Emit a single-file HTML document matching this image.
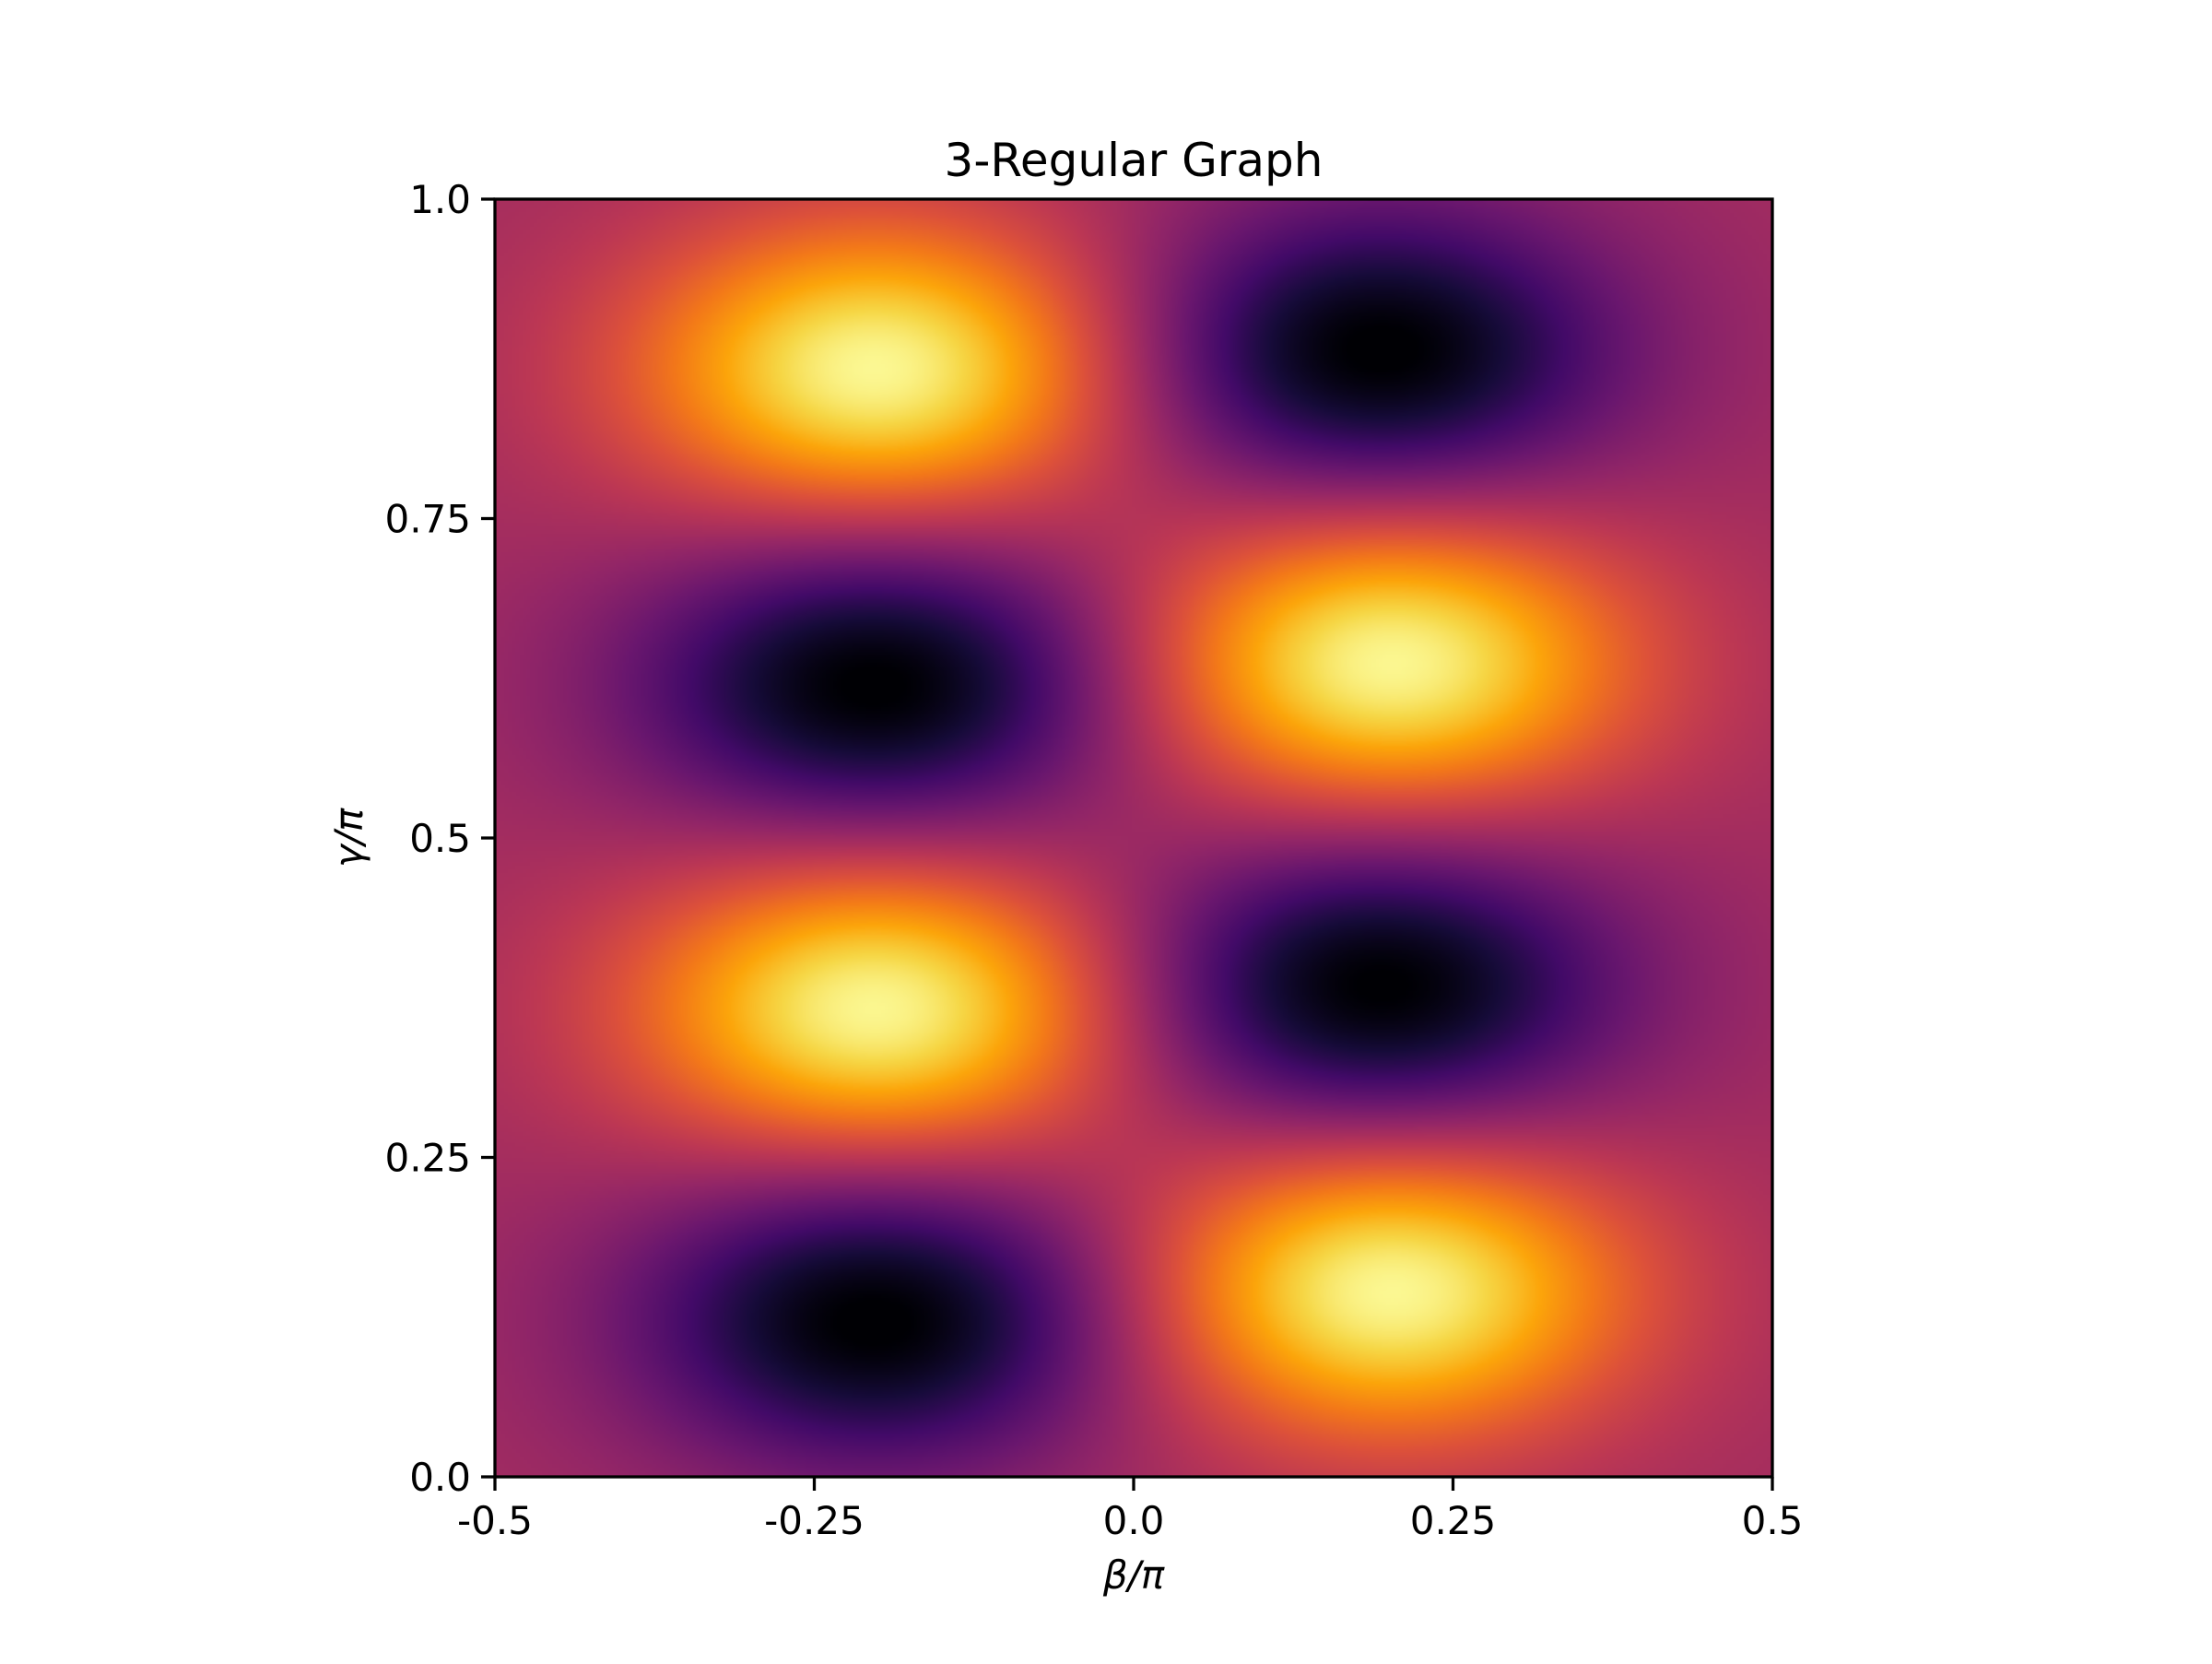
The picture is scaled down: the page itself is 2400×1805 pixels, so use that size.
<!DOCTYPE html>
<html><head><meta charset="utf-8"><style>
html,body{margin:0;padding:0;background:#fff;}
svg text{font-family:"DejaVu Sans","Liberation Sans",sans-serif;fill:#000;}
</style></head><body>
<svg width="2400" height="1800" viewBox="0 0 2400 1800" xmlns="http://www.w3.org/2000/svg">
<foreignObject x="537" y="216" width="1386" height="1386">
<canvas id="cv" width="346" height="346" style="width:1386px;height:1386px;display:block" xmlns="http://www.w3.org/1999/xhtml"></canvas>
</foreignObject>
<rect x="537" y="216" width="1386" height="1386" fill="none" stroke="#000" stroke-width="3.3"/>
<g id="xt"></g>
<g id="yt"></g>
<text x="1230" y="191" font-size="50" text-anchor="middle">3-Regular Graph</text>
<text x="1230" y="1723" font-size="42" text-anchor="middle" font-style="italic">β/π</text>
<text transform="translate(393,909) rotate(-90)" font-size="42" text-anchor="middle" font-style="italic">γ/π</text>
</svg>
<script>
// blob data (beta/pi, gamma/pi, amplitude)
const blobBeta  = [-0.20, -0.20, -0.20, -0.20, 0.19, 0.19, 0.20, 0.20];
const blobGamma = [0.866, 0.366, 0.620, 0.124, 0.880, 0.383, 0.637, 0.146];
const blobAmp   = [0.55, 0.55, -0.46, -0.46, -0.46, -0.46, 0.55, 0.55];
const baseValue = 0.44;
const xTicks = [-0.5, -0.25, 0.0, 0.25, 0.5];
const xTickLabels = ["-0.5", "-0.25", "0.0", "0.25", "0.5"];
const yTicks = [0.0, 0.25, 0.5, 0.75, 1.0];
const yTickLabels = ["0.0", "0.25", "0.5", "0.75", "1.0"];

const X0=537,X1=1923,Y0=1602,Y1=216;
const xs=v=>X0+(v+0.5)*(X1-X0);
const ys=v=>Y0-v*(Y0-Y1);
const SB=0.13, SG=0.08;
const stops=[[0,0,4],[22,11,57],[66,10,104],[106,23,110],[147,38,103],[188,55,84],[221,81,58],[243,120,25],[252,165,10],[246,215,70],[252,255,164]];
function cmap(v){v=Math.max(0,Math.min(1,v));const t=v*10,i=Math.min(9,Math.floor(t)),f=t-i,a=stops[i],b=stops[i+1];return [a[0]+(b[0]-a[0])*f,a[1]+(b[1]-a[1])*f,a[2]+(b[2]-a[2])*f];}
const cv=document.getElementById('cv');
const ctx=cv.getContext('2d');
const N=cv.width;
const img=ctx.createImageData(N,N);
for(let j=0;j<N;j++){const g=1-(j+0.5)/N;for(let i=0;i<N;i++){const b=(i+0.5)/N-0.5;let v=baseValue;
for(let k=0;k<blobBeta.length;k++){const db=(b-blobBeta[k])/SB,dg=(g-blobGamma[k])/SG;v+=blobAmp[k]*Math.exp(-0.5*(db*db+dg*dg));}
const c=cmap(v),p=(j*N+i)*4;img.data[p]=c[0];img.data[p+1]=c[1];img.data[p+2]=c[2];img.data[p+3]=255;}}
ctx.putImageData(img,0,0);
const NS='http://www.w3.org/2000/svg';
const xt=document.getElementById('xt'),yt=document.getElementById('yt');
xTicks.forEach((t,i)=>{const x=xs(t);
const l=document.createElementNS(NS,'line');l.setAttribute('x1',x);l.setAttribute('x2',x);l.setAttribute('y1',Y0);l.setAttribute('y2',Y0+15);l.setAttribute('stroke','#000');l.setAttribute('stroke-width','3.3');


xt.appendChild(l);
const tx=document.createElementNS(NS,'text');tx.setAttribute('x',x);tx.setAttribute('y',Y0+62);tx.setAttribute('font-size','42');tx.setAttribute('text-anchor','middle');tx.textContent=xTickLabels[i];


xt.appendChild(tx);});
yTicks.forEach((t,i)=>{const y=ys(t);
const l=document.createElementNS(NS,'line');l.setAttribute('x1',X0-15);l.setAttribute('x2',X0);l.setAttribute('y1',y);l.setAttribute('y2',y);l.setAttribute('stroke','#000');l.setAttribute('stroke-width','3.3');


yt.appendChild(l);
const tx=document.createElementNS(NS,'text');tx.setAttribute('x',X0-26);tx.setAttribute('y',y+15);tx.setAttribute('font-size','42');tx.setAttribute('text-anchor','end');tx.textContent=yTickLabels[i];


yt.appendChild(tx);});
</script>
</body></html>
